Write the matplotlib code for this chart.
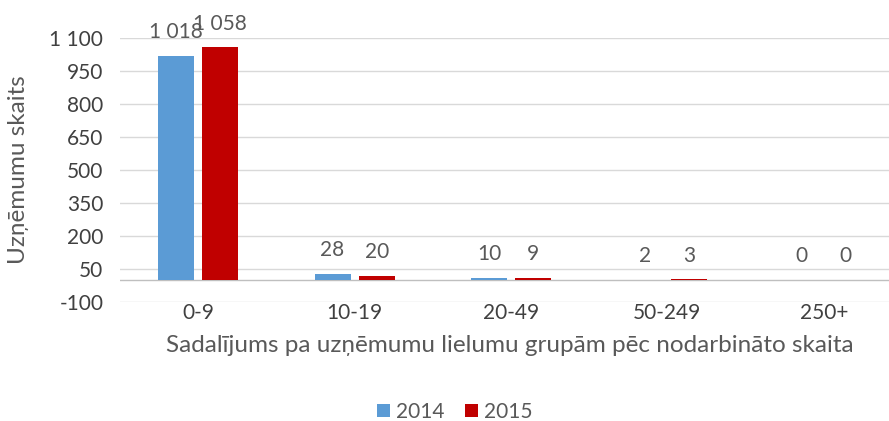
import numpy as np
from matplotlib import pyplot as plt
from matplotlib.ticker import FuncFormatter

plt.rcParams['font.family'] = ['Lato', 'DejaVu Sans']

categories = ['0-9', '10-19', '20-49', '50-249', '250+']
years = ['2014', '2015']
values_2014 = [1018, 28, 10, 2, 0]
values_2015 = [1058, 20, 9, 3, 0]
yticks = [-100, 50, 200, 350, 500, 650, 800, 950, 1100]

colors = ['#5B9BD5', '#C00000']
text_color = '#404040'
label_color = '#595959'


def fmt(v, pos=None):
    return '{:,}'.format(int(v)).replace(',', ' ')


fig = plt.figure(figsize=(8.89, 4.21), dpi=100)
# axes run past the right edge like in the cropped original
ax = fig.add_axes([120 / 889, 1 - 302 / 421, 782 / 889, 264 / 421])

x = np.arange(len(categories))
w = 0.23
off = 0.141
for vals, c, lab, sgn in [(values_2014, colors[0], years[0], -1),
                          (values_2015, colors[1], years[1], 1)]:
    bars = ax.bar(x + sgn * off, vals, width=w, color=c, label=lab, zorder=3)
    for b, v in zip(bars, vals):
        ax.annotate(fmt(v), (b.get_x() + b.get_width() / 2, v), xytext=(0, 17),
                    textcoords='offset points', ha='center', va='center',
                    fontsize=15, color=label_color, zorder=4)

ax.set_xlim(-0.5, len(categories) - 0.5)
ax.set_ylim(-100, 1100)
ax.set_yticks(yticks)
ax.yaxis.set_major_formatter(FuncFormatter(fmt))
ax.set_xticks(x)
ax.set_xticklabels(categories)
ax.grid(axis='y', color='#d9d9d9', linewidth=1, zorder=0)
ax.axhline(0, color='#bfbfbf', linewidth=1, zorder=2)
for s in ax.spines.values():
    s.set_visible(False)
ax.tick_params(length=0, labelsize=15, colors=text_color)
ax.tick_params(axis='x', pad=1)
ax.tick_params(axis='y', pad=12)

fig.text(19 / 889, 1 - 170 / 421, 'Uzņēmumu skaits', rotation=90, ha='center', va='center',
         fontsize=17.5, color=label_color)
fig.text(510 / 889, 1 - 345 / 421, 'Sadalījums pa uzņēmumu lielumu grupām pēc nodarbināto skaita',
         ha='center', va='center', fontsize=17.5, color=label_color)

leg = fig.legend(loc='center', bbox_to_anchor=(455 / 889, 1 - 412 / 421), ncol=2, frameon=False,
                 fontsize=15, handlelength=0.6, handleheight=0.6, handletextpad=0.3,
                 columnspacing=1.0, labelcolor=label_color)

fig.savefig('out.png', dpi=100)
